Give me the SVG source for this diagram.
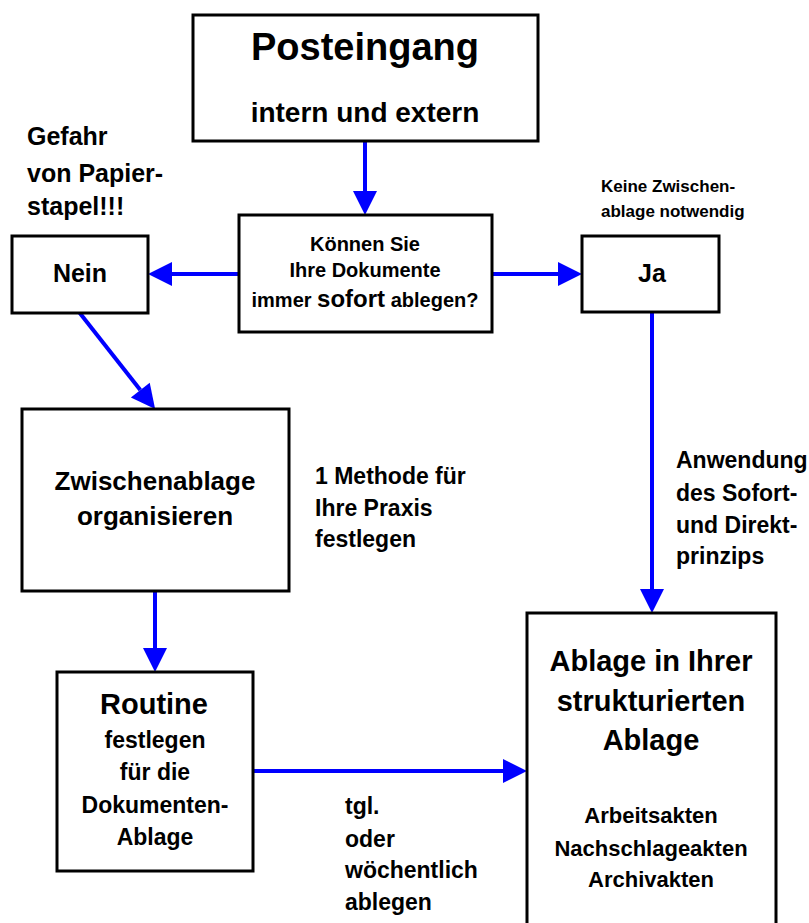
<svg xmlns="http://www.w3.org/2000/svg" width="809" height="923" viewBox="0 0 809 923">
<style>
  .box { fill: #fff; stroke: #000; stroke-width: 3; }
  .t { font-family: "Liberation Sans", Arial, sans-serif; font-weight: bold; fill: #000; }
  .c { text-anchor: middle; }
  .conn { stroke: #0000ff; stroke-width: 4; fill: none; marker-end: url(#ah); }
</style>
<defs>
  <marker id="ah" markerUnits="userSpaceOnUse" markerWidth="25" markerHeight="26" refX="0" refY="12" orient="auto" overflow="visible">
    <path d="M0,0 L24,12 L0,24 Z" fill="#0000ff"/>
  </marker>
</defs>
<rect width="809" height="923" fill="#fff"/>

<g id="connectors">
  <line class="conn" x1="365" y1="141" x2="365" y2="191"/>
  <line class="conn" x1="239" y1="274" x2="172" y2="274"/>
  <line class="conn" x1="492" y1="274" x2="558" y2="274"/>
  <line class="conn" x1="79" y1="312" x2="140.3" y2="390.1"/>
  <line class="conn" x1="652" y1="312" x2="652" y2="589"/>
  <line class="conn" x1="155" y1="591" x2="155" y2="648"/>
  <line class="conn" x1="250" y1="771" x2="503" y2="771"/>
</g>

<g id="posteingang">
  <rect class="box" x="193" y="15" width="345" height="126"/>
  <text class="t c" x="365" y="60" font-size="38">Posteingang</text>
  <text class="t c" x="365" y="122" font-size="28">intern und extern</text>
</g>

<g id="frage">
  <rect class="box" x="239" y="215" width="253" height="117"/>
  <text class="t c" x="365" y="251" font-size="20">Können Sie</text>
  <text class="t c" x="365" y="277" font-size="20">Ihre Dokumente</text>
  <text class="t c" x="365" y="307" font-size="20">immer <tspan font-size="24">sofort</tspan> ablegen?</text>
</g>

<g id="gefahr">
  <text class="t" x="27" y="145" font-size="25">Gefahr</text>
  <text class="t" x="27" y="182" font-size="25">von Papier-</text>
  <text class="t" x="27" y="215" font-size="25">stapel!!!</text>
</g>

<g id="nein">
  <rect class="box" x="12" y="236" width="136" height="77"/>
  <text class="t c" x="80" y="282" font-size="25">Nein</text>
</g>

<g id="keine">
  <text class="t" x="601" y="192" font-size="17">Keine Zwischen-</text>
  <text class="t" x="601" y="217" font-size="17">ablage notwendig</text>
</g>

<g id="ja">
  <rect class="box" x="582" y="236" width="137" height="76"/>
  <text class="t c" x="652" y="282" font-size="25">Ja</text>
</g>

<g id="zwischenablage">
  <rect class="box" x="22" y="409" width="267" height="182"/>
  <text class="t c" x="155" y="490" font-size="26">Zwischenablage</text>
  <text class="t c" x="155" y="525" font-size="26">organisieren</text>
</g>

<g id="methode">
  <text class="t" x="315" y="484" font-size="23">1 Methode für</text>
  <text class="t" x="315" y="516" font-size="23">Ihre Praxis</text>
  <text class="t" x="315" y="547" font-size="23">festlegen</text>
</g>

<g id="anwendung">
  <text class="t" x="676" y="468" font-size="23">Anwendung</text>
  <text class="t" x="676" y="501" font-size="23">des Sofort-</text>
  <text class="t" x="676" y="533" font-size="23">und Direkt-</text>
  <text class="t" x="676" y="564" font-size="23">prinzips</text>
</g>

<g id="routine">
  <rect class="box" x="57" y="672" width="196" height="199"/>
  <text class="t c" x="154" y="714" font-size="29">Routine</text>
  <text class="t c" x="155" y="748" font-size="23">festlegen</text>
  <text class="t c" x="155" y="780" font-size="23">für die</text>
  <text class="t c" x="155" y="813" font-size="23">Dokumenten-</text>
  <text class="t c" x="155" y="845" font-size="23">Ablage</text>
</g>

<g id="tgl">
  <text class="t" x="345" y="814" font-size="23">tgl.</text>
  <text class="t" x="345" y="847" font-size="23">oder</text>
  <text class="t" x="345" y="878" font-size="23">wöchentlich</text>
  <text class="t" x="345" y="910" font-size="23">ablegen</text>
</g>

<g id="ablage">
  <rect class="box" x="527" y="613" width="249" height="330"/>
  <text class="t c" x="651" y="671" font-size="29">Ablage in Ihrer</text>
  <text class="t c" x="651" y="711" font-size="29">strukturierten</text>
  <text class="t c" x="651" y="750" font-size="29">Ablage</text>
  <text class="t c" x="651" y="823" font-size="22">Arbeitsakten</text>
  <text class="t c" x="651" y="856" font-size="22">Nachschlageakten</text>
  <text class="t c" x="651" y="887" font-size="22">Archivakten</text>
</g>
</svg>
